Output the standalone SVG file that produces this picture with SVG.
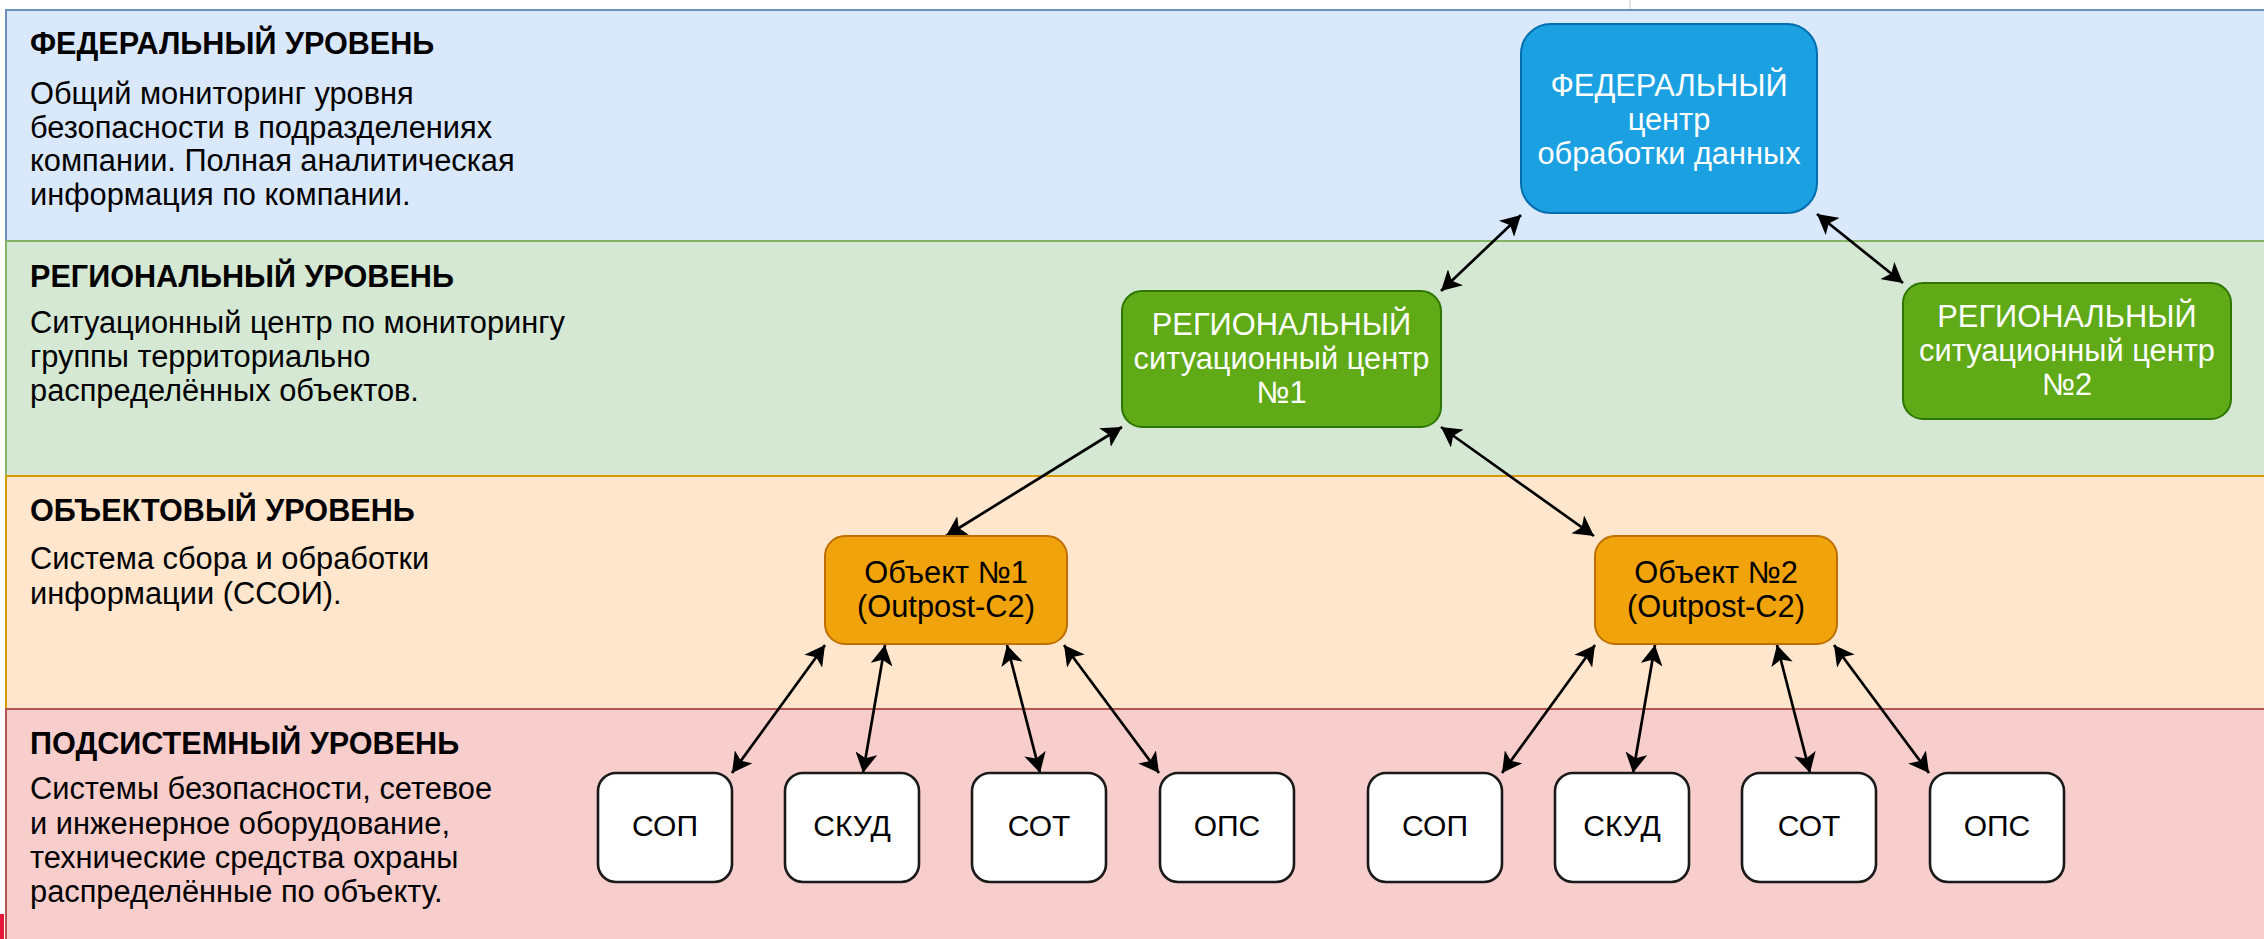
<svg xmlns="http://www.w3.org/2000/svg" width="2264" height="939" viewBox="0 0 2264 939">
<style>
text{font-family:"Liberation Sans",Arial,sans-serif;font-size:30.8px;fill:#000}
.h{font-weight:bold;font-size:30.6px}
.c{text-anchor:middle}
.w{fill:#fff}
.s{font-size:30px}
.band{stroke-width:2}
.box{fill:#fff;stroke:#1a1a1a;stroke-width:2.6}
.conn line{stroke:#000;stroke-width:2.7;marker-start:url(#ah);marker-end:url(#ah)}
</style>
<defs>
<marker id="ah" viewBox="0 0 20 22" refX="20" refY="11" markerWidth="20" markerHeight="22" markerUnits="userSpaceOnUse" orient="auto-start-reverse">
<path d="M0,0 L20,11 L0,22 L5,11 Z" fill="#000"/>
</marker>
</defs>
<rect x="0" y="0" width="2264" height="939" fill="#fff"/>
<g id="bands">
<rect class="band" x="6" y="10" width="2270" height="231" fill="#dae8fc" stroke="#6c8ebf"/>
<rect class="band" x="6" y="241" width="2270" height="235" fill="#d5e8d4" stroke="#82b366"/>
<rect class="band" x="6" y="476" width="2270" height="233" fill="#ffe6cc" stroke="#d79b00"/>
<rect class="band" x="6" y="709" width="2270" height="240" fill="#f8cecc" stroke="#b85450"/>
<rect x="0" y="914" width="4" height="25" fill="#e51937"/>
<line x1="1630" y1="0" x2="1630" y2="9" stroke="#c8c8c8" stroke-width="1"/>
</g>
<g id="band-federal-text">
<text class="h" x="30" y="54">ФЕДЕРАЛЬНЫЙ УРОВЕНЬ</text>
<text x="30" y="104">Общий мониторинг уровня</text>
<text x="30" y="137.5">безопасности в подразделениях</text>
<text x="30" y="171">компании. Полная аналитическая</text>
<text x="30" y="204.5">информация по компании.</text>
</g>
<g id="band-regional-text">
<text class="h" x="30" y="287">РЕГИОНАЛЬНЫЙ УРОВЕНЬ</text>
<text x="30" y="333">Ситуационный центр по мониторингу</text>
<text x="30" y="367">группы территориально</text>
<text x="30" y="401">распределённых объектов.</text>
</g>
<g id="band-object-text">
<text class="h" x="30" y="521">ОБЪЕКТОВЫЙ УРОВЕНЬ</text>
<text x="30" y="569">Система сбора и обработки</text>
<text x="30" y="604">информации (ССОИ).</text>
</g>
<g id="band-subsystem-text">
<text class="h" x="30" y="754">ПОДСИСТЕМНЫЙ УРОВЕНЬ</text>
<text x="30" y="799">Системы безопасности, сетевое</text>
<text x="30" y="834">и инженерное оборудование,</text>
<text x="30" y="868">технические средства охраны</text>
<text x="30" y="902">распределённые по объекту.</text>
</g>
<g class="conn" id="connectors">
<line x1="1521" y1="215" x2="1441" y2="291"/>
<line x1="1817" y1="214" x2="1903" y2="283"/>
<line x1="1122" y1="427" x2="946" y2="536"/>
<line x1="1441" y1="427" x2="1594" y2="536"/>
<line x1="825" y1="645" x2="732" y2="773"/>
<line x1="885" y1="645" x2="863" y2="773"/>
<line x1="1007" y1="645" x2="1040" y2="773"/>
<line x1="1064" y1="645" x2="1159" y2="773"/>
<line x1="1595" y1="645" x2="1502" y2="773"/>
<line x1="1655" y1="645" x2="1633" y2="773"/>
<line x1="1777" y1="645" x2="1810" y2="773"/>
<line x1="1834" y1="645" x2="1929" y2="773"/>
</g>
<g id="federal-center">
<rect x="1521" y="24" width="296" height="189" rx="30" fill="#1ba1e2" stroke="#006eaf" stroke-width="2"/>
<text class="c w" x="1669" y="96">ФЕДЕРАЛЬНЫЙ</text>
<text class="c w" x="1669" y="130">центр</text>
<text class="c w" x="1669" y="164">обработки данных</text>
</g>
<g id="regional-center-1">
<rect x="1122" y="291" width="319" height="136" rx="20" fill="#60a917" stroke="#2d7600" stroke-width="2"/>
<text class="c w" x="1281.5" y="335">РЕГИОНАЛЬНЫЙ</text>
<text class="c w" x="1281.5" y="369">ситуационный центр</text>
<text class="c w" x="1281.5" y="403">№1</text>
</g>
<g id="regional-center-2">
<rect x="1903" y="283" width="328" height="136" rx="20" fill="#60a917" stroke="#2d7600" stroke-width="2"/>
<text class="c w" x="2067" y="327">РЕГИОНАЛЬНЫЙ</text>
<text class="c w" x="2067" y="361">ситуационный центр</text>
<text class="c w" x="2067" y="395">№2</text>
</g>
<g id="object-1">
<rect x="825" y="536" width="242" height="108" rx="20" fill="#f0a30a" stroke="#bd7000" stroke-width="2"/>
<text class="c" x="946" y="583">Объект №1</text>
<text class="c" x="946" y="617">(Outpost-C2)</text>
</g>
<g id="object-2">
<rect x="1595" y="536" width="242" height="108" rx="20" fill="#f0a30a" stroke="#bd7000" stroke-width="2"/>
<text class="c" x="1716" y="583">Объект №2</text>
<text class="c" x="1716" y="617">(Outpost-C2)</text>
</g>
<g id="sop-1"><rect class="box" x="598" y="773" width="134" height="109" rx="18"/><text class="c s" x="665" y="836">СОП</text></g>
<g id="skud-1"><rect class="box" x="785" y="773" width="134" height="109" rx="18"/><text class="c s" x="852" y="836">СКУД</text></g>
<g id="sot-1"><rect class="box" x="972" y="773" width="134" height="109" rx="18"/><text class="c s" x="1039" y="836">СОТ</text></g>
<g id="ops-1"><rect class="box" x="1160" y="773" width="134" height="109" rx="18"/><text class="c s" x="1227" y="836">ОПС</text></g>
<g id="sop-2"><rect class="box" x="1368" y="773" width="134" height="109" rx="18"/><text class="c s" x="1435" y="836">СОП</text></g>
<g id="skud-2"><rect class="box" x="1555" y="773" width="134" height="109" rx="18"/><text class="c s" x="1622" y="836">СКУД</text></g>
<g id="sot-2"><rect class="box" x="1742" y="773" width="134" height="109" rx="18"/><text class="c s" x="1809" y="836">СОТ</text></g>
<g id="ops-2"><rect class="box" x="1930" y="773" width="134" height="109" rx="18"/><text class="c s" x="1997" y="836">ОПС</text></g>
</svg>
